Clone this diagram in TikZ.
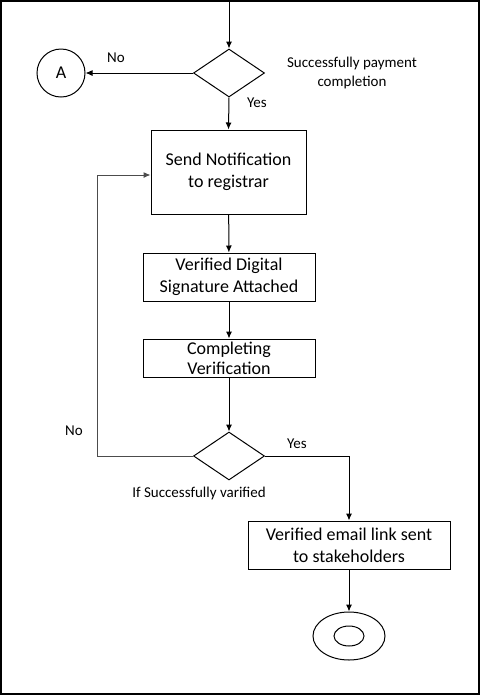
\documentclass[tikz,border=0pt]{standalone}
\usepackage{fontspec}
\setmainfont{Carlito}
\usetikzlibrary{shapes.geometric, arrows.meta}

\begin{document}
\begin{tikzpicture}[x=1pt, y=-1pt,
        process/.style = {draw, line width=1pt, inner sep=2pt, align=center, font=\fontsize{18}{22}\selectfont},
        decision/.style = {draw, diamond, line width=1pt, minimum width=71, minimum height=48, inner sep=0pt},
        note/.style = {font=\fontsize{15}{19}\selectfont, align=center},
        flow/.style = {line width=1pt, -{Latex[length=7pt, width=6pt]}},
        back/.style = {flow, draw=black!70}
    ]
    \useasboundingbox (0, 0) rectangle (481, 697);
    \draw[line width=1.2pt] (1, 1) rectangle (479, 694);

    % nodes
    \coordinate (entry) at (229, 1);
    \node[decision] (paid) at (229, 73) {};
    \node[draw, circle, line width=1pt, minimum size=48, inner sep=0pt, font=\fontsize{18}{22}\selectfont] (conA) at (61, 73) {A};
    \node[process, minimum width=155, minimum height=84] (notify) at (228.5, 172) {Send Notification\\to registrar};
    \node[process, minimum width=172, minimum height=48] (sig) at (229, 277) {Verified Digital\\Signature Attached};
    \node[draw, line width=1pt, minimum width=172, minimum height=38] (complete) at (229, 358) {};
    \node[inner sep=0pt, align=center, font=\fontsize{18}{20}\selectfont] (completetext) at (229, 358) {Completing\\Verification};
    \node[decision] (checked) at (229, 456) {};
    \node[process, minimum width=202, minimum height=48] (email) at (349, 545) {Verified email link sent\\to stakeholders};
    \node[draw, ellipse, line width=1pt, minimum width=72, minimum height=48] (finish) at (349, 636) {};
    \node[draw, ellipse, line width=1pt, minimum width=30, minimum height=20] (finishin) at (349, 636) {};

    % labels
    \node[note] (paidno) at (116, 58) {No};
    \node[note] (paidyes) at (257, 103) {Yes};
    \node[note] (paidtext) at (352, 73) {Successfully payment\\completion};
    \node[note] (checkno) at (74, 431) {No};
    \node[note] (checkyes) at (297, 444) {Yes};
    \node[note] (checktext) at (199, 493) {If Successfully varified};

    % connectors
    \coordinate (loop) at (97, 175);
    \draw[flow] (entry) -- (paid.north);
    \draw[flow] (paid.west) -- (conA.east);
    \draw[flow] (paid.south) -- (notify.north);
    \draw[flow] (notify) -- (sig);
    \draw[flow] (sig) -- (complete);
    \draw[flow] (complete) -- (checked.north);
    \draw[back] (checked.west) -| (loop) -- (loop -| notify.west);
    \draw[flow] (checked.east) -| (email.north);
    \draw[flow] (email) -- (finish.north);
\end{tikzpicture}
\end{document}
